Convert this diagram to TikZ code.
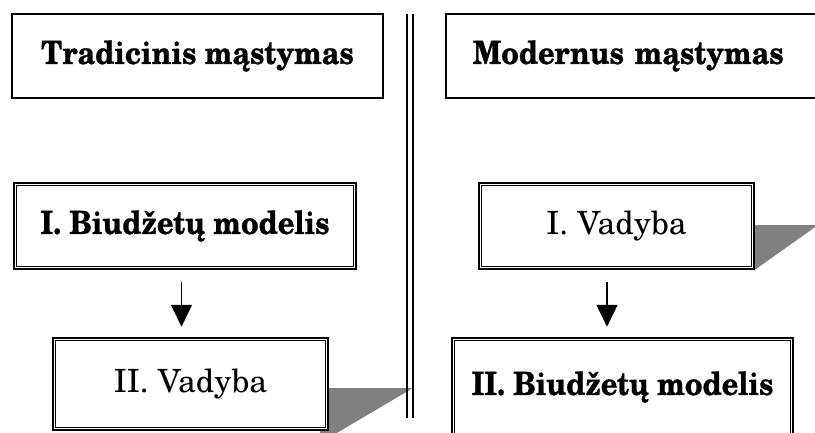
\documentclass[tikz,border=0pt]{standalone}
\usepackage{fontspec}
\setmainfont{TeX Gyre Schola}
\newfontfamily\boldnarrow[FakeStretch=0.9,FakeBold=0.8]{TeX Gyre Schola Bold}
\usetikzlibrary{arrows.meta}
\tikzset{
  bfont/.style={font=\fontsize{32}{36}\boldnarrow},
  rfont/.style={font=\fontsize{32}{36}\selectfont},
  plainbox/.style={draw=black, line width=2pt, fill=white, inner sep=0pt, bfont},
  dblbox/.style={draw=black, line width=2.5pt, fill=white, inner sep=0pt, rfont},
  inner/.style={draw=black, line width=1pt},
  shade/.style={fill=black!50, draw=none},
  arr/.style={line width=1.4pt, -{Triangle[length=22pt,width=21pt]}},
  sepline/.style={line width=2pt}
}
\begin{document}
\begin{tikzpicture}[x=1pt,y=-1pt]
\useasboundingbox (0,0) rectangle (815,432);
\clip (0,0) rectangle (815,432);
% shadows
\fill[shade] (320,388) -- (413,388) -- (330,437) -- (320,437) -- cycle;
\fill[shade] (748,225) -- (818,225) -- (756,269) -- (748,269) -- cycle;
% separator
\draw[sepline] (407,14) -- (407,418);
\draw[sepline] (412.5,14) -- (412.5,418);
% top boxes
\node[plainbox, minimum width=371pt, minimum height=84pt] (t1) at (197.5,56) {Tradicinis mąstymas};
\node[plainbox, minimum width=372pt, minimum height=84pt, text width=372pt, align=left] (t2) at (632,56) {\hspace*{27pt}Modernus mąstymas};
% left column
\node[dblbox, bfont, minimum width=342pt, minimum height=86pt] (b1) at (185,226) {I. Biudžetų modelis};
\draw[inner] ([xshift=4pt,yshift=-4pt]b1.north west) rectangle ([xshift=-4pt,yshift=4pt]b1.south east);
\node[dblbox, minimum width=275pt, minimum height=92pt] (v1) at (190.5,384) {II. Vadyba};
\draw[inner] ([xshift=4pt,yshift=-4pt]v1.north west) rectangle ([xshift=-4pt,yshift=4pt]v1.south east);
% right column
\node[dblbox, minimum width=275pt, minimum height=86pt] (v2) at (616.5,226) {I. Vadyba};
\draw[inner] ([xshift=4pt,yshift=-4pt]v2.north west) rectangle ([xshift=-4pt,yshift=4pt]v2.south east);
\node[dblbox, bfont, minimum width=341pt, minimum height=98pt] (b2) at (622.5,387) {II. Biudžetų modelis};
\draw[inner] ([xshift=4pt,yshift=-4pt]b2.north west) rectangle ([xshift=-4pt,yshift=4pt]b2.south east);
% arrows
\draw[arr, shorten <=12pt, shorten >=10pt] ([xshift=-3.5pt]b1.south) -- ([xshift=-9pt]v1.north);
\draw[arr, shorten <=12pt, shorten >=10pt] ([xshift=-9.5pt]v2.south) -- ([xshift=-15.5pt]b2.north);
\end{tikzpicture}
\end{document}
